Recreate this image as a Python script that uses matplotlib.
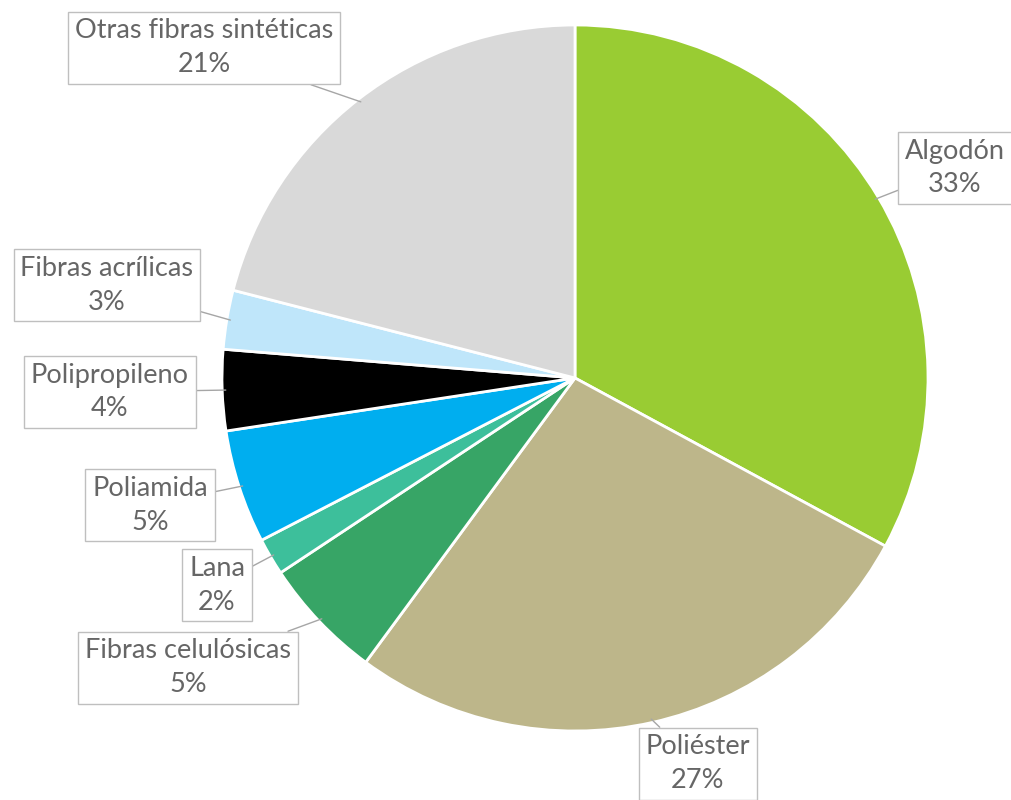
import numpy as np
import matplotlib.pyplot as plt

# datos
categorias = ['Algodón', 'Poliéster', 'Fibras celulósicas', 'Lana', 'Poliamida',
              'Polipropileno', 'Fibras acrílicas', 'Otras fibras sintéticas']
valores = [32.9, 27.2, 5.6, 1.7, 5.2, 3.7, 2.7, 21.0]
etiquetas_pct = ['33%', '27%', '5%', '2%', '5%', '4%', '3%', '21%']
colores = ['#99CC33', '#BDB68A', '#37A566', '#3DBF9B', '#00AEEF',
           '#000000', '#BFE6FA', '#D9D9D9']

# posiciones de las cajas (pixeles de la figura)
pos_cajas = [(955, 168), (698, 764), (188, 668), (217, 585), (150, 505),
             (110, 392), (107, 285), (204, 48)]

W, H = 1012, 800
fig = plt.figure(figsize=(W / 100, H / 100), dpi=100)
cx, cy, r = 575, 378, 353
ax = fig.add_axes([(cx - r) / W, (H - cy - r) / H, 2 * r / W, 2 * r / H])

wedges, _ = ax.pie(valores, colors=colores, startangle=90, counterclock=False,
                   wedgeprops=dict(edgecolor='white', linewidth=2))
ax.set_xlim(-1, 1)
ax.set_ylim(-1, 1)
ax.set_aspect('equal')
ax.axis('off')

for w, cat, pct, (px, py) in zip(wedges, categorias, etiquetas_pct, pos_cajas):
    ang = np.deg2rad((w.theta1 + w.theta2) / 2)
    punto = (0.99 * np.cos(ang), 0.99 * np.sin(ang))
    ax.annotate(f'{cat}\n{pct}', xy=punto, xycoords='data',
                xytext=(px / W, 1 - py / H), textcoords='figure fraction',
                ha='center', va='center', fontsize=19.5, family='Lato',
                color='#666666', linespacing=1.45,
                bbox=dict(boxstyle='square,pad=0.25', fc='white', ec='#BFBFBF', lw=1),
                arrowprops=dict(arrowstyle='-', color='#A6A6A6', lw=1,
                                shrinkA=0, shrinkB=0),
                annotation_clip=False)

fig.savefig('out.png', dpi=100)
